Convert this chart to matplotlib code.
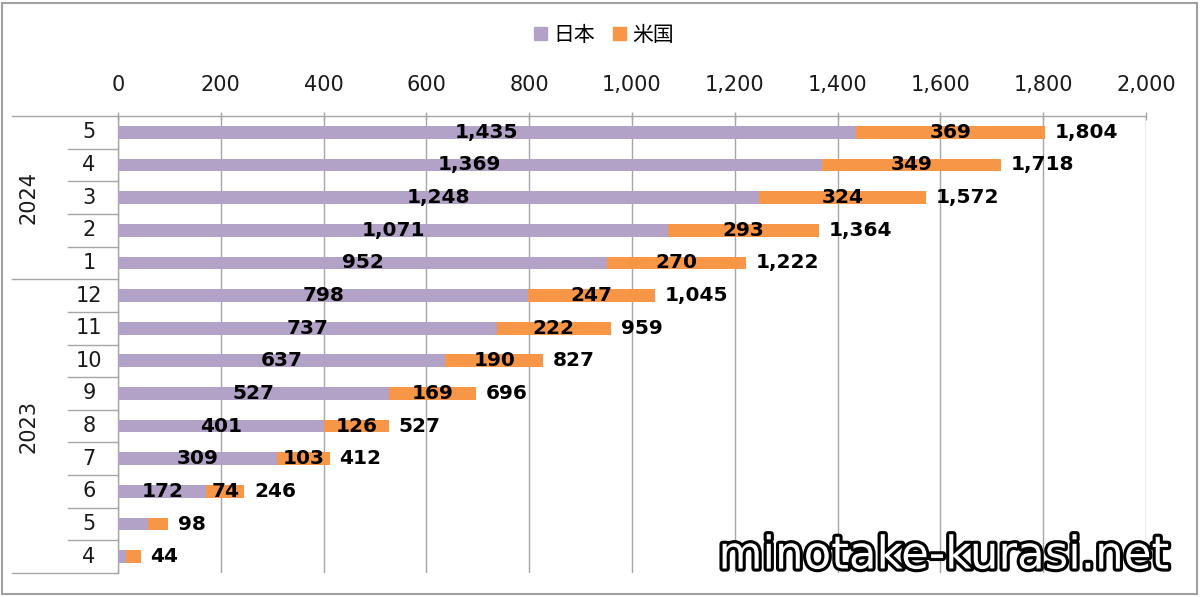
import matplotlib
matplotlib.use("Agg")
import matplotlib.pyplot as plt
import matplotlib.patheffects as pe
from matplotlib.patches import Patch, Rectangle
from matplotlib.lines import Line2D
import matplotlib.transforms as mtransforms
import numpy as np

# ---- data (top to bottom) ----
years = ["2024", "2023"]
year_counts = [5, 9]
months = ["5", "4", "3", "2", "1", "12", "11", "10", "9", "8", "7", "6", "5", "4"]
japan = [1435, 1369, 1248, 1071, 952, 798, 737, 637, 527, 401, 309, 172, 58, 15]
usa = [369, 349, 324, 293, 270, 247, 222, 190, 169, 126, 103, 74, 40, 29]
totals = [1804, 1718, 1572, 1364, 1222, 1045, 959, 827, 696, 527, 412, 246, 98, 44]
show_segment_labels = [True] * 12 + [False, False]
series_names = ["日本", "米国"]
xticks = [0, 200, 400, 600, 800, 1000, 1200, 1400, 1600, 1800, 2000]

C_JP = "#b3a2c7"
C_US = "#f79646"
GRID = "#a6a6a6"

W, H = 1200, 597
fig = plt.figure(figsize=(W / 100, H / 100), dpi=100)

def fx(px):
    return px / W

def fy(py):
    return 1 - py / H

x0, x1, y0, y1 = 118, 1146, 116, 573
ax = fig.add_axes([fx(x0), fy(y1), fx(x1 - x0), (y1 - y0) / H])

n = len(months)
ypos = np.arange(n)
bh = 0.39
ax.barh(ypos, japan, height=bh, color=C_JP, zorder=3)
ax.barh(ypos, usa, left=japan, height=bh, color=C_US, zorder=3)

ax.set_xlim(0, 2000)
ax.set_ylim(n - 0.5, -0.5)
ax.set_xticks(xticks)
ax.set_xticklabels([f"{v:,}" for v in xticks])
ax.xaxis.tick_top()
ax.tick_params(axis="x", length=6, direction="inout", color=GRID, width=1,
               pad=12, labelsize=15, labelcolor="#1a1a1a")
ax.set_yticks([])
ax.grid(axis="x", color=GRID, lw=1, zorder=0)
for s in ["right", "bottom"]:
    ax.spines[s].set_visible(False)
for s in ["left", "top"]:
    ax.spines[s].set_color(GRID)
    ax.spines[s].set_linewidth(1)

lab_kw = dict(fontsize=14.5, fontweight="bold", color="black", va="center", zorder=5)
for i in range(n):
    if show_segment_labels[i]:
        ax.text(japan[i] / 2, ypos[i], f"{japan[i]:,}", ha="center", **lab_kw)
        ax.text(japan[i] + usa[i] / 2, ypos[i], f"{usa[i]:,}", ha="center", **lab_kw)
    ax.annotate(f"{totals[i]:,}", (japan[i] + usa[i], ypos[i]), xytext=(7, 0),
                textcoords="offset points", ha="left", **lab_kw)

# ---- tiered category axis ----
tr = mtransforms.blended_transform_factory(fig.transFigure, ax.transData)
for i in range(n):
    ax.text(fx(89), ypos[i], months[i], transform=tr, ha="center", va="center",
            fontsize=15, color="#1a1a1a", clip_on=False)
bounds = np.cumsum([0] + year_counts) - 0.5
for i in range(n - 1):
    yb = i + 0.5
    if yb in bounds:
        continue
    ax.add_line(Line2D([fx(68), fx(x0)], [yb, yb], transform=tr, color=GRID, lw=1, clip_on=False))
for yb in bounds:
    ax.add_line(Line2D([fx(12), fx(x0)], [yb, yb], transform=tr, color=GRID, lw=1, clip_on=False))
for k, yr in enumerate(years):
    yc = (bounds[k] + bounds[k + 1]) / 2
    ax.text(fx(29), yc, yr, transform=tr, ha="center", va="center", rotation=90,
            fontsize=15, color="#1a1a1a", clip_on=False)

# ---- legend ----
handles = [Patch(color=C_JP), Patch(color=C_US)]
fig.legend(handles, series_names, loc="center", bbox_to_anchor=(fx(604), fy(35)),
           ncol=2, frameon=False, handlelength=0.62, handleheight=0.62,
           handletextpad=0.3, columnspacing=0.9,
           prop={"family": ["Noto Sans CJK JP", "DejaVu Sans"], "size": 15})

# ---- outer border ----
fig.add_artist(Rectangle((fx(2), fy(594)), fx(1195), (594 - 3) / H, transform=fig.transFigure,
                         fill=False, edgecolor="#a0a0a0", lw=1.5))

# ---- watermark ----
fig.text(fx(1170), fy(556), "minotake-kurasi.net", ha="right", va="center",
         fontsize=32.5, fontweight="normal", color="white", family="DejaVu Sans",
         path_effects=[pe.withStroke(linewidth=4.5, foreground="black")], zorder=10)

fig.savefig("out.png", dpi=100)
